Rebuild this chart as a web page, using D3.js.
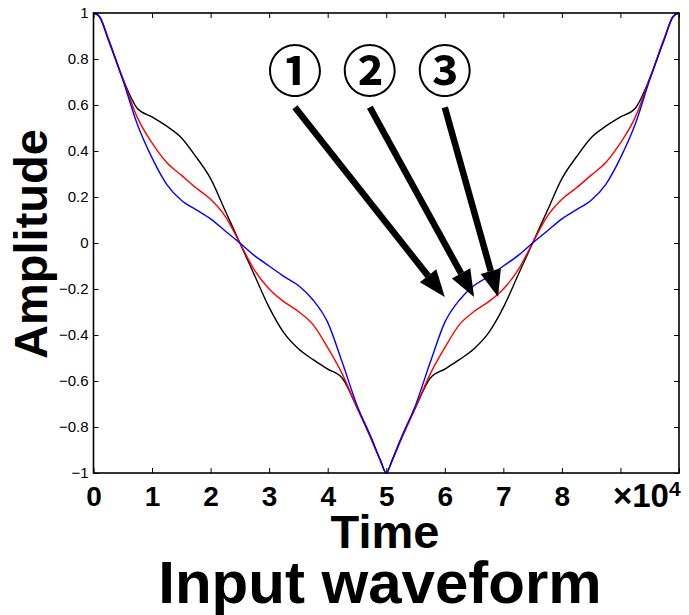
<!DOCTYPE html>
<html>
<head>
<meta charset="utf-8">
<script src="https://cdn.jsdelivr.net/npm/d3@7"></script>
<style>
  html, body { margin: 0; padding: 0; background: #fff; }
  svg { display: block; }
  text { font-family: "Liberation Sans", Arial, Helvetica, sans-serif; }
</style>
</head>
<body>
<div id="chart"></div>
<script>
// ---- data (time in units of 1e4) ----
const timeValues = [0, 0.1, 0.25, 0.5, 0.75, 1.0, 1.25, 1.5, 1.75, 2.0, 2.25, 2.5, 2.75, 3.0, 3.25, 3.5, 3.75, 4.0, 4.25, 4.5, 4.75, 4.9, 5.0,
                    5.1, 5.25, 5.5, 5.75, 6.0, 6.25, 6.5, 6.75, 7.0, 7.25, 7.5, 7.75, 8.0, 8.25, 8.5, 8.75, 9.0, 9.25, 9.5, 9.75, 9.9, 10.0];
const seriesBlack = [1.0, 0.985, 0.89, 0.715, 0.585, 0.548, 0.508, 0.458, 0.375, 0.28, 0.14, 0.0, -0.14, -0.28, -0.39, -0.46, -0.507, -0.548, -0.588, -0.715, -0.855, -0.945, -1.0,
                     -0.945, -0.855, -0.715, -0.588, -0.548, -0.507, -0.46, -0.39, -0.28, -0.14, 0.0, 0.14, 0.28, 0.375, 0.458, 0.508, 0.548, 0.585, 0.715, 0.89, 0.985, 1.0];
const seriesRed   = [1.0, 0.985, 0.89, 0.715, 0.545, 0.435, 0.35, 0.295, 0.24, 0.19, 0.116, 0.0, -0.118, -0.2, -0.255, -0.298, -0.355, -0.455, -0.57, -0.715, -0.855, -0.945, -1.0,
                     -0.945, -0.855, -0.715, -0.57, -0.455, -0.355, -0.298, -0.255, -0.2, -0.118, 0.0, 0.116, 0.19, 0.24, 0.295, 0.35, 0.435, 0.545, 0.715, 0.89, 0.985, 1.0];
const seriesBlue  = [1.0, 0.985, 0.885, 0.71, 0.515, 0.37, 0.255, 0.186, 0.145, 0.105, 0.052, 0.0, -0.055, -0.1, -0.145, -0.185, -0.248, -0.345, -0.52, -0.705, -0.85, -0.945, -1.0,
                     -0.945, -0.85, -0.705, -0.52, -0.345, -0.248, -0.185, -0.145, -0.1, -0.055, 0.0, 0.052, 0.105, 0.145, 0.186, 0.255, 0.37, 0.515, 0.71, 0.885, 0.985, 1.0];
const seriesNames = ["black", "red", "blue"];
const xTicks = [0, 1, 2, 3, 4, 5, 6, 7, 8, 9, 10];
const xTickLabels = ["0", "1", "2", "3", "4", "5", "6", "7", "8", "", ""];
const yTicks = [-1, -0.8, -0.6, -0.4, -0.2, 0, 0.2, 0.4, 0.6, 0.8, 1];
const annotationLabels = ["①", "②", "③"];
const xLabel = "Time";
const yLabel = "Amplitude";
const exponentLabel = "×10";
const exponentPower = "4";
const title = "Input waveform";

// ---- layout ----
const W = 689, H = 615;
const plot = { left: 93.5, right: 679, top: 13, bottom: 473 };

const svg = d3.select("#chart").append("svg").attr("width", W).attr("height", H);

const x = d3.scaleLinear().domain([0, 10]).range([plot.left, plot.right]);
const y = d3.scaleLinear().domain([-1, 1]).range([plot.bottom, plot.top]);

// curves
const series = [
  { name: seriesNames[0], values: seriesBlack, color: "#000000" },
  { name: seriesNames[1], values: seriesRed,   color: "#ff0000" },
  { name: seriesNames[2], values: seriesBlue,  color: "#0000ff" }
];
const line = d3.line()
  .x(d => x(d[0]))
  .y(d => y(d[1]))
  .curve(d3.curveMonotoneX);

svg.append("g").selectAll("path")
  .data(series)
  .join("path")
  .attr("fill", "none")
  .attr("stroke", d => d.color)
  .attr("stroke-width", 1.4)
  .attr("d", d => line(timeValues.map((t, i) => [t, d.values[i]])));

// axes (MATLAB style inward ticks, full box)
const axLeft = svg.append("g").attr("transform", `translate(${plot.left},0)`)
  .call(d3.axisLeft(y).tickValues(yTicks).tickFormat(d3.format("")).tickSizeInner(-5).tickSizeOuter(0).tickPadding(5));
axLeft.selectAll("text").style("font-size", "15px").attr("fill", "#000");

svg.append("g").attr("transform", `translate(${plot.right},0)`)
  .call(d3.axisRight(y).tickValues(yTicks).tickFormat("").tickSizeInner(-5).tickSizeOuter(0));

const axBottom = svg.append("g").attr("transform", `translate(0,${plot.bottom})`)
  .call(d3.axisBottom(x).tickValues(xTicks).tickFormat((d, i) => xTickLabels[i]).tickSizeInner(-5).tickSizeOuter(0).tickPadding(13));
axBottom.selectAll("text").style("font-size", "28px").style("font-weight", "bold").attr("fill", "#000");

svg.append("g").attr("transform", `translate(0,${plot.top})`)
  .call(d3.axisTop(x).tickValues(xTicks).tickFormat("").tickSizeInner(-5).tickSizeOuter(0));

svg.selectAll(".domain").remove();
svg.selectAll(".tick line").attr("stroke", "#000").attr("stroke-width", 1);

svg.append("rect")
  .attr("x", plot.left).attr("y", plot.top)
  .attr("width", plot.right - plot.left).attr("height", plot.bottom - plot.top)
  .attr("fill", "none").attr("stroke", "#000").attr("stroke-width", 1.6);

// exponent
const expText = svg.append("text")
  .attr("x", 613).attr("y", 507)
  .style("font-size", "33px").style("font-weight", "bold");
expText.append("tspan").text(exponentLabel);
expText.append("tspan").attr("dy", -11).style("font-size", "21px").text(exponentPower);

// axis labels
svg.append("text")
  .attr("x", 385).attr("y", 548)
  .attr("text-anchor", "middle")
  .style("font-size", "47px").style("font-weight", "bold")
  .text(xLabel);

svg.append("text")
  .attr("transform", "translate(47,244) rotate(-90)")
  .attr("text-anchor", "middle")
  .style("font-size", "47px").style("font-weight", "bold")
  .text(yLabel);

// title
svg.append("text")
  .attr("x", 380).attr("y", 603)
  .attr("text-anchor", "middle")
  .style("font-size", "60px").style("font-weight", "bold")
  .text(title);

// annotations: arrows pointing to curves
const arrowStartsX = [3.44, 4.72, 6.0];
const arrowTipsX = [6.0, 6.5, 6.91];
const arrowStartY = 0.59, arrowTipY = -0.235, labelY = 0.765;
const ann = svg.append("g");
annotationLabels.forEach((lab, i) => {
  const x0 = x(arrowStartsX[i]), y0 = y(arrowStartY);
  const x1 = x(arrowTipsX[i]), y1 = y(arrowTipY);
  const ang = Math.atan2(y1 - y0, x1 - x0);
  const headLen = 27, headHalf = 10.5;
  const bx = x1 - headLen * Math.cos(ang), by = y1 - headLen * Math.sin(ang);
  ann.append("line")
    .attr("x1", x0).attr("y1", y0).attr("x2", bx).attr("y2", by)
    .attr("stroke", "#000").attr("stroke-width", 6.5);
  const px = -Math.sin(ang), py = Math.cos(ang);
  ann.append("path")
    .attr("d", `M${x1},${y1}L${bx + headHalf * px},${by + headHalf * py}L${bx - headHalf * px},${by - headHalf * py}Z`)
    .attr("fill", "#000");
  ann.append("text")
    .attr("x", x0).attr("y", y(labelY))
    .attr("text-anchor", "middle")
    .attr("dominant-baseline", "central")
    .style("font-family", "'Noto Sans CJK JP', 'DejaVu Sans', sans-serif")
    .style("font-size", "55px").style("font-weight", "bold")
    .text(lab);
});
</script>
</body>
</html>
